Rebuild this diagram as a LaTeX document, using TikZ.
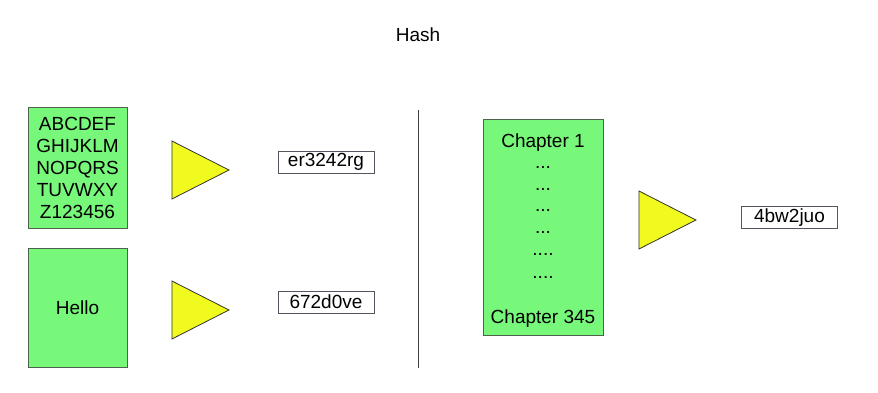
\documentclass[tikz,border=0pt]{standalone}
\usepackage{fontspec}
\setmainfont{Liberation Sans}
\usetikzlibrary{shapes.geometric}

\definecolor{boxgreen}{RGB}{120,248,122}
\definecolor{boxedge}{RGB}{75,100,75}
\definecolor{triyellow}{RGB}{240,250,30}
\definecolor{hashedge}{RGB}{85,85,95}

\tikzset{
  textbox/.style={draw=boxedge, fill=boxgreen, line width=1pt, rectangle, inner sep=0pt},
  hashbox/.style={draw=hashedge, line width=1pt, rectangle, minimum width=96pt, minimum height=22pt, inner sep=0pt},
  hashtri/.style={draw=black!80, fill=triyellow, line width=0.8pt, isosceles triangle, isosceles triangle stretches, inner sep=0pt, minimum width=58pt, minimum height=57pt, anchor=apex}
}

\begin{document}
\begin{tikzpicture}[x=1pt, y=-1pt, font=\fontsize{19}{22}\selectfont]
        \useasboundingbox (0,0) rectangle (878,392);
        \node (title) at (418,35) {Hash};

        % left: two inputs
        \node[textbox, minimum width=99pt, minimum height=121pt, align=center] (alpha) at (77.5,167.5) {ABCDEF\\GHIJKLM\\NOPQRS\\TUVWXY\\Z123456};
        \node[textbox, minimum width=99pt, minimum height=119pt] (hello) at (77.5,307.5) {Hello};
        \node[hashtri] (tria) at (230,170) {};
        \node[hashtri] (trib) at (230,310) {};
        \node[hashbox] (hasha) at (326,162) {er3242rg};
        \node[hashbox] (hashb) at (326,302) {672d0ve};

        \coordinate (divtop) at (418,110);
        \coordinate (divbot) at (418,368);
        \draw[line width=1pt, black!75] (divtop) -- (divbot);

        % right: book
        \node[textbox, minimum width=120pt, minimum height=216pt] (book) at (543,227) {};
        \node[anchor=base] (first) at (543,147) {Chapter 1};
        \foreach \y/\n [count=\i] in {168/3, 190/3, 211/3, 233/3, 255/4, 278/4}
            \node[anchor=base] (dots\i) at (543,\y) {\ifnum\n=4 .\fi...};
        \node[anchor=base] (last) at (543,323) {Chapter 345};
        \node[hashtri] (tric) at (697,220) {};
        \node[hashbox] (hashc) at (789.5,217.5) {4bw2juo};
    \end{tikzpicture}
\end{document}
